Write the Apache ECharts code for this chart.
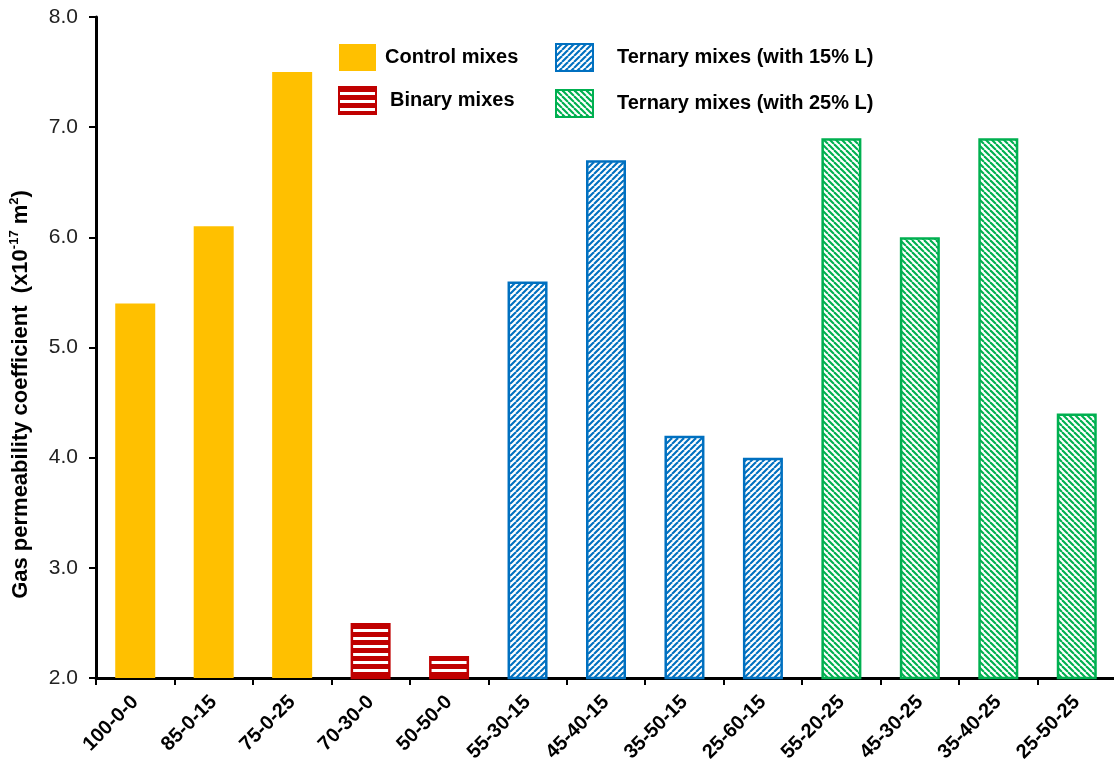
<!DOCTYPE html>
<html><head><meta charset="utf-8">
<script src="https://cdn.jsdelivr.net/npm/echarts@6/dist/echarts.min.js"></script>
<style>html,body{margin:0;padding:0;background:#fff}#c{width:1114px;height:765px}</style>
</head><body><div id="c"></div>
<script>
// ---- data ----
const categories = ['100-0-0','85-0-15','75-0-25','70-30-0','50-50-0','55-30-15','45-40-15','35-50-15','25-60-15','55-20-25','45-30-25','35-40-25','25-50-25'];
const controlCats = ['100-0-0','85-0-15','75-0-25'];
const controlValues = [5.4, 6.1, 7.5];
const binaryCats = ['70-30-0','50-50-0'];
const binaryValues = [2.5, 2.2];
const ternary15Cats = ['55-30-15','45-40-15','35-50-15','25-60-15'];
const ternary15Values = [5.6, 6.7, 4.2, 4.0];
const ternary25Cats = ['55-20-25','45-30-25','35-40-25','25-50-25'];
const ternary25Values = [6.9, 6.0, 6.9, 4.4];
const seriesNames = ['Control mixes','Binary mixes','Ternary mixes (with 15% L)','Ternary mixes (with 25% L)'];
const yMin = 2, yMax = 8, yStep = 1;

// ---- patterns ----
function hStripes(color){
  const c = document.createElement('canvas'); c.width = 8; c.height = 8;
  const g = c.getContext('2d');
  g.fillStyle = '#fff'; g.fillRect(0,0,8,8);
  g.fillStyle = color; g.fillRect(0,0,8,5);
  return {image: c, repeat: 'repeat'};
}
function dStripes(color, dir){
  const s = 6;
  const c = document.createElement('canvas'); c.width = s; c.height = s;
  const g = c.getContext('2d');
  g.fillStyle = '#fff'; g.fillRect(0,0,s,s);
  g.strokeStyle = color; g.lineWidth = 2.1;
  for (let k = -1; k <= 1; k++) {
    g.beginPath();
    if (dir === '/') { g.moveTo(k*s, s); g.lineTo(k*s + s, 0); }
    else { g.moveTo(k*s, 0); g.lineTo(k*s + s, s); }
    g.stroke();
  }
  return {image: c, repeat: 'repeat'};
}

function align(cats, vals){
  return categories.map(c => { const i = cats.indexOf(c); return i >= 0 ? vals[i] : null; });
}

const FONT = 'Liberation Sans, Arial, sans-serif';
const chart = echarts.init(document.getElementById('c'), null, {renderer: 'canvas'});

const common = {type: 'bar', barWidth: 40, barGap: '-100%'};
const legendText = {fontWeight: 'bold', fontSize: 20, fontFamily: FONT, color: '#000'};

chart.setOption({
  animation: false,
  backgroundColor: '#fff',
  grid: {left: 96, top: 17, width: 1020, bottom: 87, containLabel: false, outerBoundsMode: 'none'},
  legend: [
    {orient: 'vertical', left: 333, top: 39, itemWidth: 37, itemHeight: 27, itemGap: 15, icon: 'rect',
     data: [
       {name: seriesNames[0], textStyle: {padding: [0,0,0,4]}},
       {name: seriesNames[1], textStyle: {padding: [0,0,0,9]}}
     ],
     textStyle: legendText},
    {orient: 'vertical', left: 550, top: 38, itemWidth: 37, itemHeight: 27, itemGap: 17, icon: 'rect',
     data: [
       {name: seriesNames[2], textStyle: {padding: [0,0,0,19]}},
       {name: seriesNames[3], textStyle: {padding: [0,0,0,19]}}
     ],
     textStyle: legendText}
  ],
  xAxis: {
    type: 'category', data: categories,
    axisLine: {lineStyle: {color: '#000', width: 3}},
    axisTick: {show: true, length: 7, lineStyle: {color: '#000', width: 2}},
    axisLabel: {rotate: 45, margin: 21, interval: 0, fontWeight: 'bold', fontSize: 20, fontFamily: FONT, color: '#000'}
  },
  yAxis: {
    type: 'value', min: yMin, max: yMax, interval: yStep,
    splitLine: {show: false},
    axisLine: {show: true, lineStyle: {color: '#000', width: 3}},
    axisTick: {show: true, length: 7, lineStyle: {color: '#000', width: 2}},
    axisLabel: {formatter: v => v.toFixed(1), fontSize: 21, fontFamily: FONT, color: '#222', margin: 18},
    name: '{a|Gas permeability coefficient  (x10}{s|-17}{a| m}{s|2}{a|)}',
    nameLocation: 'middle', nameGap: 63, nameRotate: 90,
    nameTextStyle: {
      padding: [0, 94, 0, 0],
      rich: {
        a: {fontWeight: 'bold', fontSize: 22, fontFamily: FONT, color: '#000', lineHeight: 25},
        s: {fontWeight: 'bold', fontSize: 13, fontFamily: FONT, color: '#000', verticalAlign: 'top', lineHeight: 25, padding: [0,0,9,0]}
      }
    }
  },
  series: [
    Object.assign({name: seriesNames[0], data: align(controlCats, controlValues),
      itemStyle: {color: '#FFC000'}}, common),
    Object.assign({name: seriesNames[1], data: align(binaryCats, binaryValues),
      itemStyle: {color: hStripes('#C00000'), borderColor: '#C00000', borderWidth: 2.5}}, common),
    Object.assign({name: seriesNames[2], data: align(ternary15Cats, ternary15Values),
      itemStyle: {color: dStripes('#0070C0', '/'), borderColor: '#0070C0', borderWidth: 2.5}}, common),
    Object.assign({name: seriesNames[3], data: align(ternary25Cats, ternary25Values),
      itemStyle: {color: dStripes('#00B050', '\\'), borderColor: '#00B050', borderWidth: 2.5}}, common)
  ]
});
</script></body></html>
